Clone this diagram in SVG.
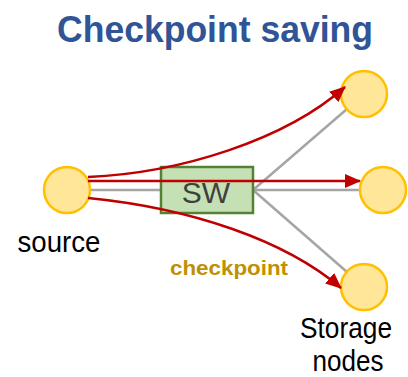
<svg xmlns="http://www.w3.org/2000/svg" width="408" height="377" viewBox="0 0 408 377">
<defs>
<style>
.node{fill:#ffe699;stroke:#ffc000;stroke-width:2.5}
.gray{stroke:#a5a5a5;stroke-width:2.5;fill:none}
.red{stroke:#c00000;stroke-width:2.5;fill:none;marker-end:url(#ah)}
.lbl{font-family:"Liberation Sans",Arial,sans-serif;fill:#000;font-size:29px}
</style>
<marker id="ah" markerUnits="userSpaceOnUse" markerWidth="16" markerHeight="14" refX="15" refY="7" orient="auto">
<path d="M0,0 L16,7 L0,14 z" fill="#c00000"/>
</marker>
</defs>
<rect width="408" height="377" fill="#fff"/>
<text x="215" y="42" text-anchor="middle" font-family="'Liberation Sans',Arial,sans-serif" font-weight="bold" font-size="37" fill="#2f5597" textLength="316" lengthAdjust="spacingAndGlyphs">Checkpoint saving</text>
<g id="gray-links">
<path class="gray" d="M90,190 L161,190"/>
<path class="gray" d="M253,190 L347,109"/>
<path class="gray" d="M253,190 L360,190"/>
<path class="gray" d="M253,190 L347,272"/>
</g>
<g id="sw">
<rect x="161" y="167" width="92" height="46" fill="#c5e0b4" stroke="#548235" stroke-width="2.5"/>
<text x="206" y="203" text-anchor="middle" font-family="'Liberation Sans',Arial,sans-serif" font-size="30" fill="#404040">SW</text>
</g>
<g id="source">
<circle class="node" cx="67" cy="190" r="23"/>
<text class="lbl" x="59" y="252" text-anchor="middle" textLength="83" lengthAdjust="spacingAndGlyphs">source</text>
</g>
<g id="storage1"><circle class="node" cx="364" cy="94" r="23"/></g>
<g id="storage2"><circle class="node" cx="383" cy="190" r="23"/></g>
<g id="storage3"><circle class="node" cx="364" cy="287" r="23"/></g>
<g id="connectors">
<path class="red" d="M88,177 C180,173 285,140 345,87"/>
<path class="red" d="M88,181 L360,181"/>
<path class="red" d="M88,198 C190,208 285,240 341,288"/>
</g>
<text x="229" y="275" text-anchor="middle" font-family="'Liberation Sans',Arial,sans-serif" font-weight="bold" font-size="21" fill="#bf9000" textLength="118" lengthAdjust="spacingAndGlyphs">checkpoint</text>
<text class="lbl" x="346" y="338" text-anchor="middle" textLength="92" lengthAdjust="spacingAndGlyphs">Storage</text>
<text class="lbl" x="348" y="371" text-anchor="middle" textLength="71" lengthAdjust="spacingAndGlyphs">nodes</text>
</svg>
